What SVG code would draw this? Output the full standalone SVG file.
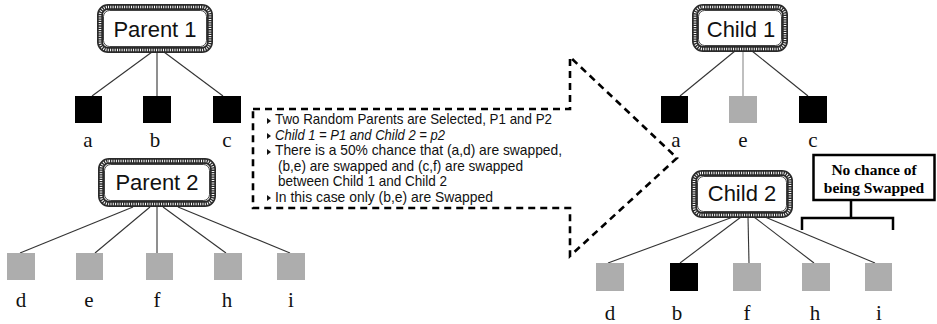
<svg xmlns="http://www.w3.org/2000/svg" width="937" height="324" viewBox="0 0 937 324">
<style>
.bg{fill:#fff}
.frameA{fill:#fff;stroke:#2a2a2a;stroke-width:6}
.frameB{fill:none;stroke:#fff;stroke-width:2.6;stroke-dasharray:1 1.3}
.frameC{fill:none;stroke:#111;stroke-width:0.8}
.title{font-family:"Liberation Sans","DejaVu Sans",sans-serif;font-size:22px;fill:#111;text-anchor:middle}
.lbl{font-family:"Liberation Serif","Times New Roman",serif;font-size:21px;fill:#111;text-anchor:middle}
.blk{fill:#000}
.gry{fill:#adadad}
.edge{stroke:#333;stroke-width:1.1;fill:none}
.edgeG{stroke:#8a8a8a;stroke-width:1.1;fill:none}
.dash{fill:none;stroke:#000;stroke-width:2.6;stroke-dasharray:7 5}
.note{font-family:"Liberation Sans","DejaVu Sans",sans-serif;font-size:14.5px;fill:#111}
.bul{fill:#111}
.nc{font-family:"Liberation Serif","Times New Roman",serif;font-size:15.5px;font-weight:bold;fill:#000;text-anchor:middle}
</style>
<rect class="bg" x="0" y="0" width="937" height="324"/>

<g id="arrow">
<path class="dash" d="M253,109 L570,109 L570,57 L677,158 L570,256 L570,208 L253,208 Z"/>
<polygon class="bul" points="267,118 271,121 267,124"/>
<polygon class="bul" points="267,133 271,136 267,139"/>
<polygon class="bul" points="267,149 271,152 267,155"/>
<polygon class="bul" points="267,195 271,198 267,201"/>
<text class="note" x="275" y="124" textLength="277" lengthAdjust="spacingAndGlyphs">Two Random Parents are Selected, P1 and P2</text>
<text class="note" x="275" y="140" font-style="italic" textLength="170" lengthAdjust="spacingAndGlyphs">Child 1 = P1 and Child 2 = p2</text>
<text class="note" x="275" y="155" textLength="287" lengthAdjust="spacingAndGlyphs">There is a 50% chance that (a,d) are swapped,</text>
<text class="note" x="278" y="171" textLength="245" lengthAdjust="spacingAndGlyphs">(b,e) are swapped and (c,f) are swapped</text>
<text class="note" x="278" y="186" textLength="169" lengthAdjust="spacingAndGlyphs">between Child 1 and Child 2</text>
<text class="note" x="275" y="202" textLength="218" lengthAdjust="spacingAndGlyphs">In this case only (b,e) are Swapped</text>
</g>

<g id="connectors">
<line class="edge" x1="152" y1="52" x2="92" y2="96"/>
<line class="edge" x1="157" y1="52" x2="157" y2="96"/>
<line class="edge" x1="164" y1="52" x2="223" y2="96"/>

<line class="edge" x1="133" y1="207" x2="20" y2="253"/>
<line class="edge" x1="150" y1="207" x2="95" y2="253"/>
<line class="edge" x1="157" y1="207" x2="157" y2="253"/>
<line class="edge" x1="163" y1="207" x2="226" y2="253"/>
<line class="edge" x1="178" y1="207" x2="290" y2="253"/>

<line class="edge" x1="735" y1="51" x2="680" y2="96"/>
<line class="edgeG" x1="743" y1="51" x2="743" y2="96"/>
<line class="edge" x1="752" y1="51" x2="808" y2="96"/>

<line class="edge" x1="733" y1="217" x2="608" y2="263"/>
<line class="edge" x1="741" y1="217" x2="680" y2="263"/>
<line class="edge" x1="748" y1="217" x2="749" y2="263"/>
<line class="edge" x1="754" y1="217" x2="814" y2="263"/>
<line class="edge" x1="765" y1="217" x2="875" y2="263"/>
</g>

<g id="parent1">
<rect class="frameA" x="100" y="7" width="110" height="43" rx="8"/>
<rect class="frameB" x="100" y="7" width="110" height="43" rx="8"/>
<rect class="frameC" x="103.5" y="10.5" width="103" height="36" rx="6"/>
<text class="title" x="155" y="37">Parent 1</text>
</g>
<g id="p1a"><rect class="blk" x="75" y="96" width="27" height="27"/><text class="lbl" x="88" y="147">a</text></g>
<g id="p1b"><rect class="blk" x="143" y="96" width="28" height="27"/><text class="lbl" x="155" y="147">b</text></g>
<g id="p1c"><rect class="blk" x="213" y="96" width="28" height="27"/><text class="lbl" x="227" y="147">c</text></g>

<g id="parent2">
<rect class="frameA" x="101" y="161" width="112" height="43" rx="8"/>
<rect class="frameB" x="101" y="161" width="112" height="43" rx="8"/>
<rect class="frameC" x="104.5" y="164.5" width="105" height="36" rx="6"/>
<text class="title" x="157" y="190">Parent 2</text>
</g>
<g id="p2d"><rect class="gry" x="7" y="253" width="28" height="27"/><text class="lbl" x="21" y="307">d</text></g>
<g id="p2e"><rect class="gry" x="76" y="253" width="27" height="27"/><text class="lbl" x="89" y="307">e</text></g>
<g id="p2f"><rect class="gry" x="146" y="253" width="27" height="27"/><text class="lbl" x="157" y="307">f</text></g>
<g id="p2h"><rect class="gry" x="214" y="253" width="28" height="27"/><text class="lbl" x="227" y="307">h</text></g>
<g id="p2i"><rect class="gry" x="277" y="253" width="28" height="27"/><text class="lbl" x="291" y="307">i</text></g>

<g id="child1">
<rect class="frameA" x="695" y="7" width="90" height="42" rx="8"/>
<rect class="frameB" x="695" y="7" width="90" height="42" rx="8"/>
<rect class="frameC" x="698.5" y="10.5" width="83" height="35" rx="6"/>
<text class="title" x="741" y="37">Child 1</text>
</g>
<g id="c1a"><rect class="blk" x="661" y="96" width="27" height="27"/><text class="lbl" x="676" y="147">a</text></g>
<g id="c1e"><rect class="gry" x="729" y="96" width="28" height="27"/><text class="lbl" x="743" y="147">e</text></g>
<g id="c1c"><rect class="blk" x="799" y="96" width="28" height="27"/><text class="lbl" x="813" y="147">c</text></g>

<g id="child2">
<rect class="frameA" x="694" y="173" width="96" height="42" rx="8"/>
<rect class="frameB" x="694" y="173" width="96" height="42" rx="8"/>
<rect class="frameC" x="697.5" y="176.5" width="89" height="35" rx="6"/>
<text class="title" x="742" y="201">Child 2</text>
</g>
<g id="c2d"><rect class="gry" x="596" y="263" width="28" height="28"/><text class="lbl" x="610" y="320">d</text></g>
<g id="c2b"><rect class="blk" x="670" y="263" width="28" height="28"/><text class="lbl" x="677" y="320">b</text></g>
<g id="c2f"><rect class="gry" x="733" y="263" width="28" height="28"/><text class="lbl" x="747" y="320">f</text></g>
<g id="c2h"><rect class="gry" x="802" y="263" width="28" height="28"/><text class="lbl" x="815" y="320">h</text></g>
<g id="c2i"><rect class="gry" x="865" y="263" width="27" height="28"/><text class="lbl" x="879" y="320">i</text></g>

<g id="nochance">
<rect x="813.5" y="155" width="121" height="45" fill="#fff" stroke="#000" stroke-width="2.5"/>
<text class="nc" x="874" y="175">No chance of</text>
<text class="nc" x="874" y="193">being Swapped</text>
<path d="M851,200 V218 M802,230 V218 H893 V230" fill="none" stroke="#000" stroke-width="2.5"/>
</g>
</svg>
